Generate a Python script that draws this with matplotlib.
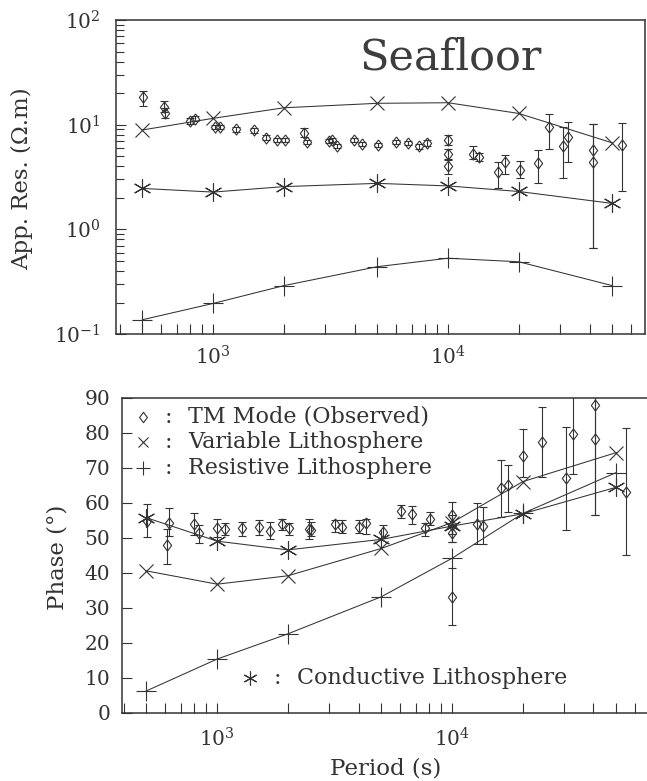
import numpy as np
import matplotlib
matplotlib.use("Agg")
import matplotlib.pyplot as plt
from matplotlib.ticker import LogLocator, MultipleLocator, NullFormatter

INK = "#333333"
plt.rcParams.update({
    "font.family": ["DejaVu Serif"],
    "mathtext.fontset": "dejavuserif",
    "text.color": INK, "axes.edgecolor": INK, "axes.labelcolor": INK,
    "xtick.color": INK, "ytick.color": INK, "axes.linewidth": 1.1,
})

# ─── MODEL CURVES ────────────────────────────────────────
model_period = [500, 1000, 2000, 5000, 10000, 20000, 50000]

rho_variable   = [8.9, 11.5, 14.5, 16.0, 16.2, 12.8, 6.7]
rho_resistive  = [0.137, 0.196, 0.29, 0.44, 0.53, 0.49, 0.29]
rho_conductive = [2.46, 2.27, 2.56, 2.75, 2.6, 2.3, 1.77]

ph_variable   = [40.6, 36.8, 39.2, 47.0, 54.4, 66.1, 74.4]
ph_resistive  = [6.3, 15.4, 22.6, 33.2, 44.2, 57.0, 68.7]
ph_conductive = [55.8, 49.1, 46.6, 49.6, 53.4, 56.9, 64.5]

# ─── OBSERVED TM MODE ────────────────────────────────────
rho_period = [502, 615, 621, 798, 838, 1020, 1071, 1253, 1494, 1675, 1866,
              2025, 2438, 2505, 3100, 3200, 3358, 3994, 4294, 5050, 6010,
              6720, 7530, 8110, 10000, 10000, 10000, 12820, 13600, 16370,
              17500, 20230, 24210, 26980, 30760, 32500, 41300, 41300, 54800]
rho_obs = [18.4, 14.8, 12.9, 10.8, 11.3, 9.4, 9.4, 9.0, 8.8, 7.5, 7.1,
           7.1, 8.4, 6.9, 7.0, 7.1, 6.3, 7.2, 6.5, 6.4, 6.9,
           6.7, 6.2, 6.7, 7.1, 5.2, 4.0, 5.2, 4.95, 3.5,
           4.4, 3.7, 4.3, 9.4, 6.3, 7.7, 5.75, 4.4, 6.4]
rho_lo = [15.1, 13.3, 11.6, 10.2, 10.8, 9.0, 9.0, 8.6, 8.4, 7.2, 6.8,
          6.8, 7.7, 6.6, 6.7, 6.8, 6.0, 6.9, 6.2, 6.1, 6.6,
          6.4, 5.9, 6.3, 6.4, 4.7, 3.4, 4.7, 4.5, 2.5,
          3.4, 3.1, 2.75, 5.9, 3.1, 4.4, 0.66, 0.66, 2.3]
rho_hi = [21.0, 16.9, 14.3, 11.5, 12.0, 9.9, 9.9, 9.5, 9.3, 7.9, 7.4,
          7.4, 9.2, 7.2, 7.3, 7.4, 6.6, 7.5, 6.8, 6.7, 7.2,
          7.0, 6.5, 7.1, 7.9, 5.8, 4.6, 6.3, 5.4, 4.4,
          5.1, 4.5, 5.7, 12.6, 9.6, 10.6, 10.2, 10.2, 10.3]

ph_period = [502, 625, 613, 798, 841, 1003, 1082, 1274, 1514, 1682, 1885,
             2031, 2472, 2505, 3177, 3394, 4036, 4306, 5070, 6050, 6740,
             7680, 8050, 10000, 10000, 10000, 10000, 12730, 13510, 16190,
             17270, 20000, 24100, 30500, 32800, 40600, 40600, 54900]
ph_obs = [54.9, 54.4, 48.0, 54.0, 51.3, 52.8, 52.5, 52.8, 53.0, 52.1, 54.0,
          52.8, 52.5, 52.3, 54.0, 53.2, 53.2, 54.2, 51.8, 57.8, 56.9,
          52.8, 55.3, 56.6, 53.7, 51.3, 33.2, 54.0, 53.4, 64.2,
          65.1, 73.4, 77.5, 67.0, 79.7, 88.0, 78.2, 63.2]
ph_lo = [50.2, 50.5, 42.5, 50.8, 48.7, 50.4, 50.9, 50.6, 50.9, 49.6, 52.3,
         50.9, 49.6, 50.5, 51.8, 51.5, 51.3, 51.1, 50.0, 55.6, 54.0,
         50.6, 53.7, 48.9, 51.0, 48.9, 25.1, 48.3, 48.3, 56.1,
         57.5, 67.5, 67.5, 52.3, 68.3, 56.6, 56.6, 45.1]
ph_hi = [59.7, 58.5, 52.5, 57.2, 53.7, 55.3, 54.4, 54.7, 55.1, 54.7, 55.3,
         54.4, 55.3, 54.5, 55.1, 55.0, 55.0, 55.4, 53.7, 59.4, 59.1,
         54.3, 57.5, 60.4, 56.5, 53.5, 41.3, 60.1, 58.8, 72.3,
         70.9, 81.0, 87.3, 81.8, 95.0, 100.0, 100.0, 81.3]

legend_labels = ["TM Mode (Observed)", "Variable Lithosphere",
                 "Resistive Lithosphere", "Conductive Lithosphere"]

# ─── STYLE ───────────────────────────────────────────────
DIAMOND = [(0, 1), (0.75, 0), (0, -1), (-0.75, 0), (0, 1)]
ASTER = (6, 2, 0)
LW = 0.75
TICK_FS = 14.5
LABEL_FS = 16.5
LEG_FS = 16


def draw_models(ax, v, r, c):
    kw = dict(color=INK, lw=LW, mew=0.8)
    ax.plot(model_period, v, marker="x", ms=10.5, **kw)
    ax.plot(model_period, r, marker="+", ms=15, **kw)
    ax.plot(model_period, c, marker=ASTER, ms=13, **kw)


def draw_obs(ax, per, val, lo, hi):
    val = np.array(val)
    err = [val - np.array(lo), np.array(hi) - val]
    ax.errorbar(per, val, yerr=err, fmt="none", ecolor=INK,
                elinewidth=0.8, capsize=3.2, capthick=0.8)
    ax.plot(per, val, ls="none", marker=DIAMOND, ms=8, mfc="none",
            mec=INK, mew=0.8)


def style_axis(ax):
    ax.tick_params(which="both", direction="in", top=False, right=False,
                   width=0.8, labelsize=TICK_FS)
    ax.tick_params(axis="x", which="both", length=7, pad=8)
    ax.xaxis.set_major_locator(LogLocator(base=10, numticks=10))
    ax.xaxis.set_minor_locator(LogLocator(base=10, subs=np.arange(2, 10), numticks=20))
    ax.xaxis.set_minor_formatter(NullFormatter())


fig = plt.figure(figsize=(6.47, 7.81), dpi=100)
ax1 = fig.add_axes([0.1793, 0.5723, 0.8176, 0.4021])
ax2 = fig.add_axes([0.1878, 0.0871, 0.8168, 0.4033])

# ─── TOP: APPARENT RESISTIVITY ───────────────────────────
ax1.set_xscale("log"); ax1.set_yscale("log")
draw_models(ax1, rho_variable, rho_resistive, rho_conductive)
draw_obs(ax1, rho_period, rho_obs, rho_lo, rho_hi)
ax1.set_xlim(386, 68900)
ax1.set_ylim(0.1, 100)
style_axis(ax1)
ax1.yaxis.set_minor_locator(LogLocator(base=10, subs=np.arange(2, 10), numticks=20))
ax1.yaxis.set_minor_formatter(NullFormatter())
ax1.tick_params(axis="y", which="major", length=7, pad=11)
ax1.tick_params(axis="y", which="minor", length=5.5)
ax1.set_ylabel("App. Res. (Ω.m)", fontsize=LABEL_FS)
ax1.yaxis.set_label_coords(-0.157, 0.494)
ax1.text(0.633, 0.841, "Seafloor", transform=ax1.transAxes, fontsize=31,
         ha="center", va="baseline", color="#3d3d3d")

# ─── BOTTOM: PHASE ───────────────────────────────────────
ax2.set_xscale("log")
draw_models(ax2, ph_variable, ph_resistive, ph_conductive)
draw_obs(ax2, ph_period, ph_obs, ph_lo, ph_hi)
ax2.set_xlim(392, 69600)
ax2.set_ylim(0, 90)
style_axis(ax2)
ax2.tick_params(axis="x", which="both", pad=10)
ax2.yaxis.set_major_locator(MultipleLocator(10))
ax2.tick_params(axis="y", which="major", length=7, pad=8)
ax2.set_ylabel("Phase (°)", fontsize=LABEL_FS)
ax2.yaxis.set_label_coords(-0.101, 0.495)
ax2.set_xlabel("Period (s)", fontsize=LABEL_FS)
ax2.xaxis.set_label_coords(0.5005, -0.140)

# legend drawn as plain text, as in the paper
leg_rows = [(DIAMOND, 7.5, 0.940), ("x", 7, 0.860), ("+", 10, 0.778)]
for (mk, ms, yy), lab in zip(leg_rows, legend_labels[:3]):
    ax2.plot([0.0407], [yy], transform=ax2.transAxes, marker=mk, ms=ms,
             mfc="none", mec=INK, mew=0.8, ls="none", clip_on=False)
    ax2.text(0.088, yy, ":", transform=ax2.transAxes, fontsize=LEG_FS,
             ha="center", va="center")
    ax2.text(0.126, yy, lab, transform=ax2.transAxes, fontsize=LEG_FS,
             ha="left", va="center")
ax2.plot([0.243], [0.111], transform=ax2.transAxes, marker=ASTER, ms=10,
         mec=INK, mew=0.8, ls="none")
ax2.text(0.294, 0.111, ":", transform=ax2.transAxes, fontsize=LEG_FS,
         ha="center", va="center")
ax2.text(0.332, 0.111, legend_labels[3], transform=ax2.transAxes,
         fontsize=LEG_FS, ha="left", va="center")

fig.savefig("out.png", dpi=100, facecolor="white")
